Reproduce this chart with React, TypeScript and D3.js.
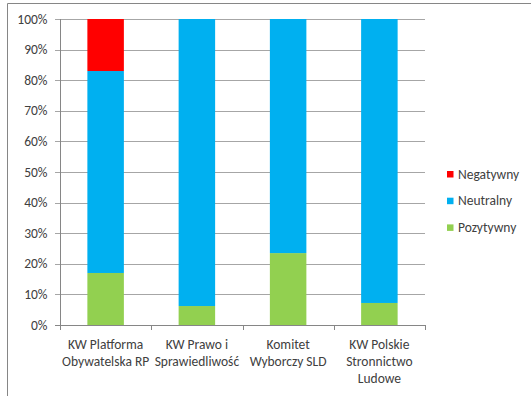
import React from "react";
import * as d3 from "d3";

const categories = [
  ["KW Platforma", "Obywatelska RP"],
  ["KW Prawo i", "Sprawiedliwość"],
  ["Komitet", "Wyborczy SLD"],
  ["KW Polskie", "Stronnictwo", "Ludowe"],
];
const pozytywny = [17, 6.2, 23.5, 7.2];
const neutralny = [66, 93.8, 76.5, 92.8];
const negatywny = [17, 0, 0, 0];
const seriesNames = ["Negatywny", "Neutralny", "Pozytywny"];
const colors: Record<string, string> = {
  Negatywny: "#FF0000",
  Neutralny: "#00B0F0",
  Pozytywny: "#92D050",
};
const yTicks = [0, 10, 20, 30, 40, 50, 60, 70, 80, 90, 100];

export default function App() {
  const W = 531, H = 396;
  const left = 60, right = 425, top = 19, bottom = 325;
  const x = d3.scaleBand<number>().domain(d3.range(categories.length)).range([left, right]).paddingInner(0.6).paddingOuter(0.3);
  const y = d3.scaleLinear().domain([0, 100]).range([bottom, top]);
  const rows = categories.map((_, i) => ({ Pozytywny: pozytywny[i], Neutralny: neutralny[i], Negatywny: negatywny[i] }));
  const stack = d3.stack<any>().keys(["Pozytywny", "Neutralny", "Negatywny"])(rows);
  const step = (right - left) / categories.length;
  const font = "Carlito, Calibri, 'Open Sans', sans-serif";
  return (
    <svg width={W} height={H} style={{ position: "absolute", left: 0, top: 0 }} fontFamily={font}>
      <rect x={0} y={0} width={W} height={H} fill="#fff" />
      <line x1={7.5} x2={W} y1={3.5} y2={3.5} stroke="#868686" />
      <line x1={7.5} x2={7.5} y1={3.5} y2={H} stroke="#868686" />
      {yTicks.map((t) => (
        <g key={t}>
          <line x1={left - 5} x2={right} y1={Math.round(y(t)) + 0.5} y2={Math.round(y(t)) + 0.5} stroke={t === 0 ? "#868686" : "#A6A6A6"} />
          <text x={47.5} y={y(t) + 4.5} textAnchor="end" fontSize={13.5} fill="#404040">{t}%</text>
        </g>
      ))}
      <line x1={left + 0.5} x2={left + 0.5} y1={top} y2={bottom} stroke="#868686" />
      {d3.range(categories.length + 1).map((i) => (
        <line key={i} x1={Math.round(left + i * step) + 0.5} x2={Math.round(left + i * step) + 0.5} y1={bottom} y2={bottom + 5} stroke="#868686" />
      ))}
      {stack.map((s) =>
        s.map((d, i) => (
          <rect key={s.key + i} x={x(i)} width={x.bandwidth()} y={y(d[1])} height={y(d[0]) - y(d[1])} fill={colors[s.key]} />
        ))
      )}
      {categories.map((lines, i) => (
        <text key={i} textAnchor="middle" fontSize={13.5} fill="#404040">
          {lines.map((l, j) => (
            <tspan key={j} x={(x(i) as number) + x.bandwidth() / 2} y={349 + j * 17}>{l}</tspan>
          ))}
        </text>
      ))}
      {seriesNames.map((n, i) => (
        <g key={n}>
          <rect x={447} y={171 + i * 26.7} width={6.5} height={6.5} fill={colors[n]} />
          <text x={458} y={178.5 + i * 26.7} fontSize={13.5} fill="#404040">{n}</text>
        </g>
      ))}
    </svg>
  );
}
